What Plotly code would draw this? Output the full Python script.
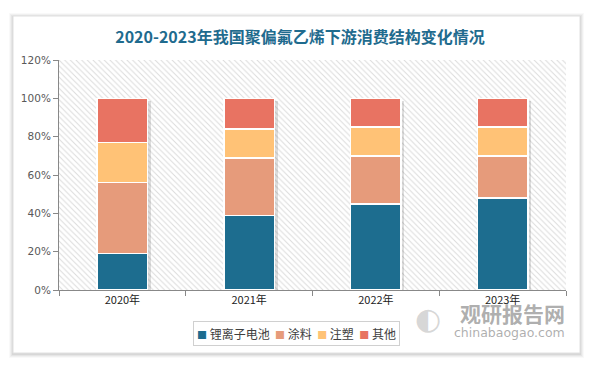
import plotly.graph_objects as go

years = ["2020年", "2021年", "2022年", "2023年"]
li_battery = [19, 39, 45, 48]
coating = [37, 30, 25, 22]
injection = [21, 15, 15, 15]
other = [23, 16, 15, 15]

series_names = ["锂离子电池", "涂料", "注塑", "其他"]
series_vals = [li_battery, coating, injection, other]
colors = ["#1D6D8F", "#E69B7B", "#FFC276", "#E87362"]

y_ticks = [0, 20, 40, 60, 80, 100, 120]
y_ticktext = [f"{v}%" for v in y_ticks]

W, H = 594, 366
L, R, T, B = 59, 28, 60, 76
pw, ph = W - L - R, H - T - B


def px2x(px):
    return (px - L) / pw


def py2y(py):
    return (H - B - py) / ph


fig = go.Figure()

# hatched plot background (decoration) on hidden main axes
fig.add_trace(go.Bar(
    x=[0.5], y=[1], width=[1], xaxis="x", yaxis="y",
    marker=dict(color="white", line=dict(width=0),
                pattern=dict(shape="\\", fgcolor="#b8b8b8", bgcolor="white", size=4, solidity=0.25)),
    showlegend=False, hoverinfo="skip",
))

# soft shadow behind each bar stack
fig.add_trace(go.Bar(
    x=years, y=[100] * len(years), xaxis="x2", yaxis="y2", width=0.4, offset=-0.2 + 0.025,
    base=[-1.2] * len(years),
    marker=dict(color="rgba(0,0,0,0.13)", line=dict(width=0)),
    showlegend=False, hoverinfo="skip",
))

for name, vals, col in zip(series_names, series_vals, colors):
    fig.add_trace(go.Bar(
        x=years, y=vals, name=name, xaxis="x2", yaxis="y2",
        marker=dict(color=col, line=dict(color="white", width=1.5)),
        width=0.4, showlegend=False,
    ))

shapes = []
# card shadow
card = (13, 16, 580, 353)
for i, a in enumerate([0.025, 0.035, 0.045, 0.06]):
    d = 4 - i
    shapes.append(dict(type="rect", xref="paper", yref="paper", layer="below",
                       x0=px2x(card[0] - d), x1=px2x(card[2] + d),
                       y0=py2y(card[3] + d + 1), y1=py2y(card[1] - d + 1),
                       fillcolor=f"rgba(0,0,0,{a})", line=dict(width=0)))
shapes.append(dict(type="rect", xref="paper", yref="paper", layer="below",
                   x0=px2x(card[0]), x1=px2x(card[2]), y0=py2y(card[3]), y1=py2y(card[1]),
                   fillcolor="white", line=dict(color="#e0e0e0", width=1)))

legend_parts = []
for name, col in zip(series_names, colors):
    legend_parts.append(f'<span style="color:{col};font-size:10px">■</span> {name}')
legend_text = "  ".join(legend_parts)

annotations = [
    dict(text="观研报告网", xref="paper", yref="paper", x=px2x(567), y=py2y(313),
         xanchor="right", yanchor="middle", showarrow=False,
         font=dict(family="Noto Sans CJK SC", size=21, color="rgba(140,140,140,0.7)", weight="bold")),
    dict(text="chinabaogao.com", xref="paper", yref="paper", x=px2x(567), y=py2y(332),
         xanchor="right", yanchor="middle", showarrow=False,
         font=dict(family="DejaVu Sans", size=12.5, color="rgba(140,140,140,0.7)")),
    dict(text="◐", xref="paper", yref="paper", x=px2x(428), y=py2y(318),
         xanchor="center", yanchor="middle", showarrow=False,
         font=dict(family="DejaVu Sans", size=30, color="rgba(180,180,180,0.55)")),
    dict(text=legend_text, xref="paper", yref="paper", x=px2x(296), y=py2y(333.5),
         xanchor="center", yanchor="middle", showarrow=False,
         bordercolor="#d0d0d0", borderwidth=1, borderpad=3, bgcolor="white",
         font=dict(family="Noto Sans CJK SC", size=12, color="#404040")),
]

fig.update_layout(
    width=W, height=H,
    margin=dict(l=L, r=R, t=T, b=B, pad=0),
    paper_bgcolor="white", plot_bgcolor="rgba(0,0,0,0)",
    barmode="stack", bargap=0.6,
    showlegend=False,
    title=dict(text="<b>2020-2023年我国聚偏氟乙烯下游消费结构变化情况</b>",
               x=0.505, xanchor="center", y=1 - 37 / H, yanchor="middle",
               font=dict(family="Noto Sans CJK SC", size=16, color="#1F6B8E")),
    xaxis=dict(range=[0, 1], visible=False, fixedrange=True),
    yaxis=dict(range=[0, 1], visible=False, fixedrange=True),
    xaxis2=dict(overlaying="x", side="bottom", type="category", tickson="boundaries",
                ticks="outside", ticklen=5, tickcolor="#888888", showline=True,
                linecolor="#888888", linewidth=1, showgrid=False,
                tickfont=dict(family="Noto Sans CJK SC", size=11, color="#222222")),
    yaxis2=dict(overlaying="y", side="left", range=[0, 120], tickmode="array",
                tickvals=y_ticks, ticktext=y_ticktext, ticks="outside", ticklen=5, tickcolor="#888888",
                showline=True, linecolor="#888888", linewidth=1, showgrid=False, zeroline=False,
                tickfont=dict(family="DejaVu Sans", size=10.5, color="#595959")),
    shapes=shapes, annotations=annotations,
)

fig.write_html("out.html", config={"displayModeBar": False},
               post_script="document.body.style.margin='0';")
